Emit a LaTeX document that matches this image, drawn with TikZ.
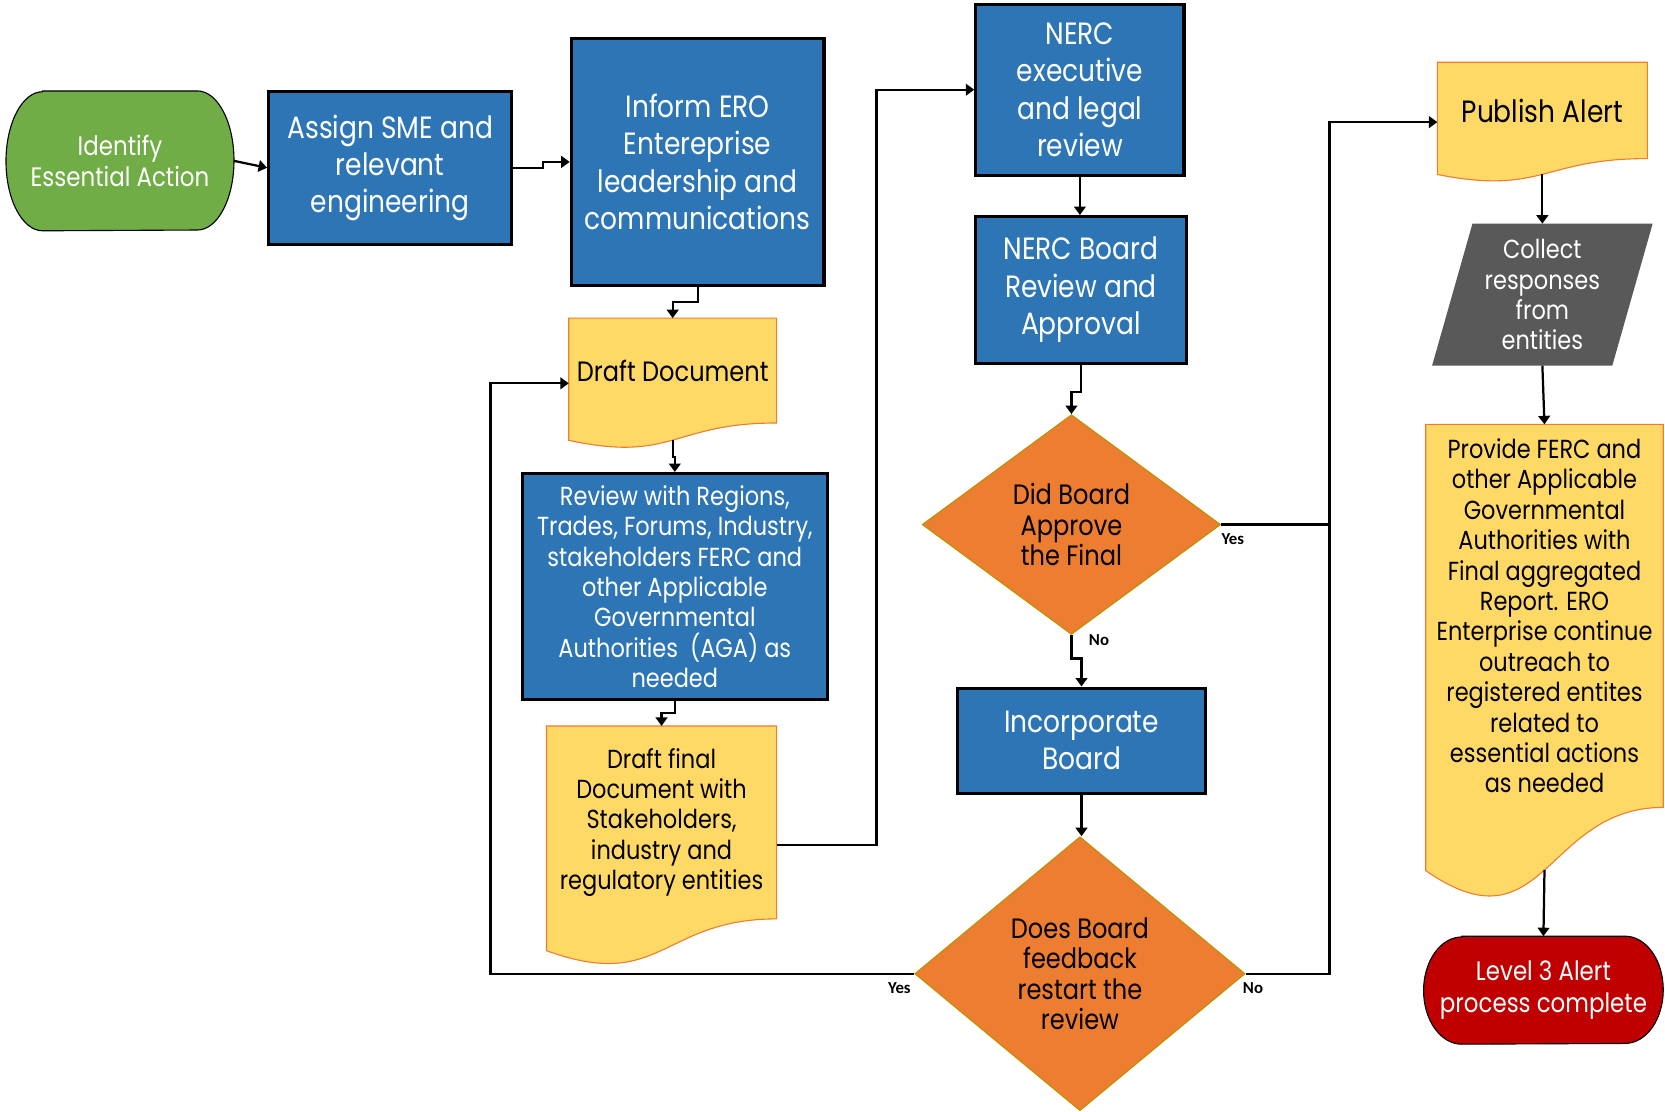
\documentclass[tikz,border=0pt]{standalone}
\usepackage{fontspec}
\setmainfont{Poppins}[FakeStretch=0.86]
\newfontfamily\lblfont{Carlito}
\usepackage{xcolor}
\usetikzlibrary{calc,arrows.meta,shapes.geometric,backgrounds,positioning}

\definecolor{procblue}{HTML}{2E75B6}
\definecolor{startgreen}{HTML}{70AD47}
\definecolor{docyellow}{HTML}{FFD966}
\definecolor{docedge}{HTML}{ED7D31}
\definecolor{decorange}{HTML}{ED7D31}
\definecolor{decedge}{HTML}{BF9000}
\definecolor{iogray}{HTML}{595959}
\definecolor{endred}{HTML}{C00000}

\newcommand{\bigtxt}{\fontsize{16.5}{20}\selectfont}
\newcommand{\midtxt}{\fontsize{14}{16.3}\selectfont}
\newcommand{\dectxt}{\fontsize{15}{16.3}\selectfont}
\newcommand{\idtxt}{\fontsize{14.3}{17}\selectfont}

% document shape under a node, the node is the upper part
\newcommand{\docbg}[1]{%
  \begin{pgfonlayer}{background}
    \draw[docfill] (#1.north west) -- (#1.north east) -- (#1.south east)
      .. controls (#1.south) and ($(#1.north)!1.381!(#1.south)$) .. ($(#1.north west)!1.165!(#1.south west)$) -- cycle;
  \end{pgfonlayer}
  \coordinate (#1-b) at ($(#1.north)!1.163!(#1.south)$);}
% terminator shape
\newcommand{\termbg}[4]{%
  \begin{pgfonlayer}{background}
    \draw[fill=#2, draw=black, line width=0.6pt] ([xshift=#3]#1.north west) -- ([xshift=-#3]#1.north east)
      arc[start angle=90, end angle=-90, x radius=#3, y radius=#4]
      -- ([xshift=#3]#1.south west)
      arc[start angle=270, end angle=90, x radius=#3, y radius=#4] -- cycle;
  \end{pgfonlayer}}
% parallelogram
\newcommand{\iobg}[2]{%
  \begin{pgfonlayer}{background}
    \fill[iogray] ($(#1.north west)+(#2,0)$) -- (#1.north east) -- ($(#1.south east)-(#2,0)$) -- (#1.south west) -- cycle;
  \end{pgfonlayer}}

\tikzset{
  wh/.style 2 args={minimum width=#1*0.02cm, minimum height=#2*0.02cm, inner sep=0pt},
  procbox/.style={rectangle, draw=black, line width=1.7pt, fill=procblue, text=white, align=center},
  termnode/.style={rectangle, text=white, align=center},
  ionode/.style={rectangle, text=white, align=center},
  docnode/.style={rectangle, text=black, align=center},
  docfill/.style={fill=docyellow, draw=docedge, line width=0.6pt},
  decision/.style={diamond, aspect=1.36, fill=decorange, draw=decedge, line width=0.6pt, text=black, align=center},
  flow/.style={line width=1.2pt, -{Triangle[width=0.22cm,length=0.16cm]}},
  link/.style={line width=1.2pt},
  yn/.style={font=\lblfont\bfseries\fontsize{9}{10}\selectfont},
}

\begin{document}
\begin{tikzpicture}[x=0.02cm, y=-0.02cm]
\useasboundingbox (0,0) rectangle (1568,1047);

% start row
\node[termnode, wh={214}{131}, font=\idtxt] (ident) at (113,151.5) {Identify\\Essential Action};
\termbg{ident}{startgreen}{0.69cm}{1.31cm}
\node[procbox, wh={229}{144}, font=\bigtxt] (assign) at (367.5,158) {Assign SME and\\relevant\\engineering};
\node[procbox, wh={238}{233}, font=\bigtxt] (inform) at (657,152.5) {Inform ERO\\Entereprise\\leadership and\\communications};

% drafting column
\node[docnode, wh={195}{98}, font=\dectxt] (draft) at (633.5,349) {Draft Document};
\docbg{draft}
\node[procbox, wh={287}{213}, font=\midtxt] (review) at (635.5,552.5) {Review with Regions,\\Trades, Forums, Industry,\\stakeholders FERC and\\other Applicable\\Governmental\\Authorities~~(AGA) as\\needed};
\node[docnode, wh={216}{181}, font=\midtxt] (final) at (623,774.5) {Draft final\\Document with\\Stakeholders,\\industry and\\regulatory entities};
\docbg{final}

% board column
\node[procbox, wh={196}{161}, font=\bigtxt] (legal) at (1017,84.5) {NERC\\executive\\and legal\\review};
\node[procbox, wh={198}{138}, font=\bigtxt] (board) at (1018,273) {NERC Board\\Review and\\Approval};
\node[decision, wh={281}{207}, font=\dectxt] (approve) at (1009,494) {Did Board\\Approve\\the Final};
\node[procbox, wh={233}{99}, font=\bigtxt] (incorp) at (1018.5,697.5) {Incorporate\\Board};
\node[decision, wh={311}{258}, font=\dectxt] (restart) at (1017,917) {Does Board\\feedback\\restart the\\review};

% publish column
\node[docnode, wh={197}{90}, font=\bigtxt] (publish) at (1452.5,104) {Publish Alert};
\docbg{publish}
\node[ionode, wh={207}{133}, font=\midtxt] (collect) at (1452.5,277.5) {Collect\\responses\\from\\entities};
\iobg{collect}{38}
\node[docnode, wh={223}{360}, font=\midtxt] (provide) at (1454.5,580) {Provide FERC and\\other Applicable\\Governmental\\Authorities with\\Final aggregated\\Report. ERO\\Enterprise continue\\outreach to\\registered entites\\related to\\essential actions\\as needed};
\docbg{provide}
\node[termnode, wh={225}{101}, font=\idtxt] (done) at (1453.5,932.5) {Level 3 Alert\\process complete};
\termbg{done}{endred}{0.72cm}{1.01cm}

% connectors
\coordinate (bus) at (1252,494);
\draw[flow] (ident.east) -- (assign.west);
\draw[flow] (assign.east) -- ++(28,0) |- (inform.west);
\draw[flow] (inform.south) -- ++(0,14) -| (draft.north);
\draw[flow] (draft-b) -- ++(0,16) -| (review.north);
\draw[flow] (review.south) -- ++(0,11) -| (final.north);
\draw[flow] ($(final.east)+(0,21)$) -- ++(94,0) |- (legal.west);
\draw[flow] (legal.south) -- (legal.south |- board.north);
\draw[flow] (board.south) -- ++(0,26) -| (approve.north);
\draw[flow] (approve.south) -- ++(0,22) -| (incorp.north);
\draw[flow] (approve.east) -- (bus) |- ($(publish.west)+(0,11)$);
\draw[flow] (incorp.south) -- (incorp.south |- restart.north);
\draw[flow] (restart.west) -- ++(-399,0) |- ($(draft.west)+(0,12)$);
\draw[link] (restart.east) -| (bus);
\draw[flow] (publish-b) -- (collect.north);
\draw[flow] (collect.south) -- (provide.north);
\draw[flow] (provide-b) -- (done.north);

% labels
\node[yn] (yes1) at (1161,508) {Yes};
\node[yn] (no1) at (1035,603) {No};
\node[yn] (yes2) at (847,931) {Yes};
\node[yn] (no2) at (1180,931) {No};
\end{tikzpicture}
\end{document}
